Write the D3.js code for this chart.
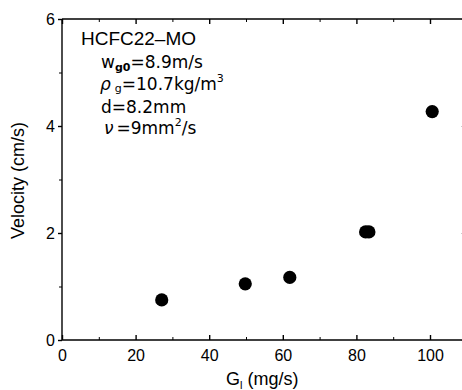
<!DOCTYPE html>
<html>
<head>
<meta charset="utf-8">
<script src="https://cdn.jsdelivr.net/npm/d3@7"></script>
<style>
  html, body { margin: 0; padding: 0; background: #fff; }
  svg { display: block; }
  text { fill: #000; }
</style>
</head>
<body>
<svg id="chart" width="462" height="390"></svg>
<script>
// Data
const glValues = [27.1, 49.8, 61.9, 82.5, 83.4, 100.6];
const velocityValues = [0.75, 1.05, 1.17, 2.02, 2.02, 4.27];
const xTicks = [0, 20, 40, 60, 80, 100];
const xMinorTicks = [10, 30, 50, 70, 90, 110];
const yTicks = [0, 2, 4, 6];
const yMinorTicks = [1, 3, 5];

const SANS = "'Liberation Sans', Arial, sans-serif";
const DEJA = "'DejaVu Sans', sans-serif";

const svg = d3.select("#chart");
const x = d3.scaleLinear().domain([0, 110]).range([62, 466.8]);
const y = d3.scaleLinear().domain([0, 6]).range([340, 19]);

const sw = 1.4;
// Frame
const frame = svg.append("g").attr("fill", "none").attr("stroke", "#000").attr("stroke-width", sw);
frame.append("line").attr("x1", x(0)).attr("x2", x(110)).attr("y1", y(0)).attr("y2", y(0));
frame.append("line").attr("x1", x(0)).attr("x2", x(110)).attr("y1", y(6)).attr("y2", y(6));
frame.append("line").attr("x1", x(0)).attr("x2", x(0)).attr("y1", y(0)).attr("y2", y(6));
frame.append("line").attr("x1", x(110)).attr("x2", x(110)).attr("y1", y(0)).attr("y2", y(6));

// Bottom axis
const xb = d3.axisBottom(x).tickValues(xTicks).tickFormat(d3.format("d")).tickSizeInner(-5).tickSizeOuter(0).tickPadding(10);
const gxb = svg.append("g").attr("transform", `translate(0,${y(0)})`).call(xb);
gxb.select(".domain").remove();
gxb.selectAll(".tick line").attr("stroke-width", sw);
gxb.selectAll("text").style("font-size", "16px").style("font-family", SANS).attr("fill", "#000");
const xbm = d3.axisBottom(x).tickValues(xMinorTicks).tickSize(-3).tickFormat("");
const gxbm = svg.append("g").attr("transform", `translate(0,${y(0)})`).call(xbm);
gxbm.select(".domain").remove();

// Top axis ticks
const xt = d3.axisTop(x).tickValues(xTicks).tickSize(-5).tickFormat("");
const gxt = svg.append("g").attr("transform", `translate(0,${y(6)})`).call(xt);
gxt.select(".domain").remove();
gxt.selectAll(".tick line").attr("stroke-width", sw);
const xtm = d3.axisTop(x).tickValues(xMinorTicks).tickSize(-3).tickFormat("");
const gxtm = svg.append("g").attr("transform", `translate(0,${y(6)})`).call(xtm);
gxtm.select(".domain").remove();

// Left axis
const yl = d3.axisLeft(y).tickValues(yTicks).tickFormat(d3.format("d")).tickSize(4).tickPadding(3);
const gyl = svg.append("g").attr("transform", `translate(${x(0)},0)`).call(yl);
gyl.select(".domain").remove();
gyl.selectAll(".tick line").attr("stroke-width", sw);
gyl.selectAll("text").style("font-size", "16px").style("font-family", SANS).attr("fill", "#000");
const ylm = d3.axisLeft(y).tickValues(yMinorTicks).tickSize(3).tickFormat("");
const gylm = svg.append("g").attr("transform", `translate(${x(0)},0)`).call(ylm);
gylm.select(".domain").remove();

// Right axis ticks (inward)
const yr = d3.axisRight(y).tickValues(yTicks).tickSize(-5).tickFormat("");
const gyr = svg.append("g").attr("transform", `translate(${x(110)},0)`).call(yr);
gyr.select(".domain").remove();

// Axis titles
const xl = svg.append("text").attr("x", 226).attr("y", 385).style("font-size", "18px").style("font-family", SANS);
xl.append("tspan").text("G");
xl.append("tspan").style("font-size", "11px").attr("dy", 4).text("l");
xl.append("tspan").attr("dy", -4).text(" (mg/s)");

svg.append("text")
  .attr("transform", `translate(24,${(y(0)+y(6))/2 + 1}) rotate(-90)`)
  .attr("text-anchor", "middle").style("font-size", "18px").style("font-family", SANS)
  .text("Velocity (cm/s)");

// Annotation
svg.append("text").attr("x", 81).attr("y", 45).style("font-size", "18px").style("font-family", SANS)
  .attr("textLength", 115).attr("lengthAdjust", "spacingAndGlyphs")
  .text("HCFC22–MO");
const l2 = svg.append("text").attr("x", 101).attr("y", 68).style("font-size", "17px").style("font-family", DEJA);
l2.append("tspan").text("w");
l2.append("tspan").style("font-size", "11px").style("font-weight", "bold").attr("dy", 3).text("g0");
l2.append("tspan").attr("dy", -3).text("=8.9m/s");
const l3 = svg.append("text").attr("x", 100).attr("y", 90).style("font-size", "17px").style("font-family", DEJA);
l3.append("tspan").style("font-style", "italic").text("ρ");
l3.append("tspan").style("font-size", "11px").attr("dy", 2).attr("dx", 4).text("g");
l3.append("tspan").attr("dy", -2).text("=10.7kg/m");
l3.append("tspan").style("font-size", "11px").attr("dy", -8).text("3");
svg.append("text").attr("x", 101).attr("y", 113).style("font-size", "17px").style("font-family", DEJA).text("d=8.2mm");
const l5 = svg.append("text").attr("x", 104).attr("y", 134).style("font-size", "17px").style("font-family", DEJA);
l5.append("tspan").style("font-style", "italic").text("ν");
l5.append("tspan").attr("dx", 3).text("=9mm");
l5.append("tspan").style("font-size", "11px").attr("dy", -8).text("2");
l5.append("tspan").attr("dy", 8).text("/s");

// Points
svg.append("g").selectAll("circle")
  .data(glValues.map((g, i) => ({ g, v: velocityValues[i] })))
  .join("circle")
  .attr("cx", d => x(d.g))
  .attr("cy", d => y(d.v))
  .attr("r", 6.6)
  .attr("fill", "#000");
</script>
</body>
</html>
